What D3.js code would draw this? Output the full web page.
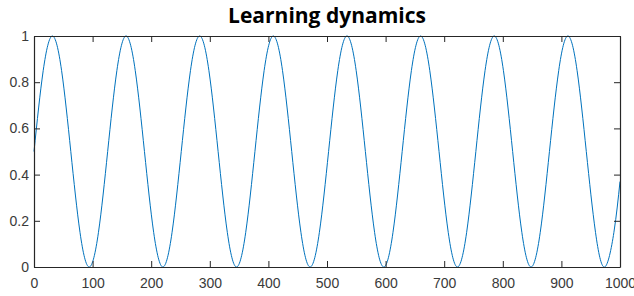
<!DOCTYPE html>
<html>
<head>
<meta charset="utf-8">
<script src="https://cdn.jsdelivr.net/npm/d3@7"></script>
<style>
  body { margin: 0; background: #fff; }
  svg { display: block; }
</style>
</head>
<body>
<div id="chart"></div>
<script>
// values (peaks, troughs and in-between points)
const steps = [0, 15.7, 31.4, 47.1, 62.8, 78.5, 94.2, 110.0,
  125.7, 141.4, 157.1, 172.8, 188.5, 204.2, 219.9, 235.6,
  251.3, 267.0, 282.7, 298.5, 314.2, 329.9, 345.6, 361.3,
  377.0, 392.7, 408.4, 424.1, 439.8, 455.5, 471.2, 487.0,
  502.7, 518.4, 534.1, 549.8, 565.5, 581.2, 596.9, 612.6,
  628.3, 644.0, 659.7, 675.4, 691.2, 706.9, 722.6, 738.3,
  754.0, 769.7, 785.4, 801.1, 816.8, 832.5, 848.2, 863.9,
  879.6, 895.4, 911.1, 926.8, 942.5, 958.2, 973.9, 989.6, 1000];
const level = [0.5, 0.85, 1, 0.85, 0.5, 0.15, 0, 0.15,
  0.5, 0.85, 1, 0.85, 0.5, 0.15, 0, 0.15,
  0.5, 0.85, 1, 0.85, 0.5, 0.15, 0, 0.15,
  0.5, 0.85, 1, 0.85, 0.5, 0.15, 0, 0.15,
  0.5, 0.85, 1, 0.85, 0.5, 0.15, 0, 0.15,
  0.5, 0.85, 1, 0.85, 0.5, 0.15, 0, 0.15,
  0.5, 0.85, 1, 0.85, 0.5, 0.15, 0, 0.15,
  0.5, 0.85, 1, 0.85, 0.5, 0.15, 0, 0.15, 0.37];
const xTicks = [0, 100, 200, 300, 400, 500, 600, 700, 800, 900, 1000];
const yTicks = [0, 0.2, 0.4, 0.6, 0.8, 1];
const title = 'Learning dynamics';

const width = 634, height = 296;
const margin = { top: 36, right: 14, bottom: 29, left: 34 };
const axisColor = '#262626';
const labelColor = '#3a3a3a';
const tickLen = 6;

const svg = d3.select('#chart').append('svg')
  .attr('width', width).attr('height', height);

const x = d3.scaleLinear().domain([0, 1000]).range([margin.left, width - margin.right]);
const y = d3.scaleLinear().domain([0, 1]).range([height - margin.bottom, margin.top]);

const pts = steps.map((s, i) => [s, level[i]]);

// curve
const line = d3.line().x(d => x(d[0])).y(d => y(d[1])).curve(d3.curveNatural);
svg.append('path')
  .datum(pts)
  .attr('d', line)
  .attr('fill', 'none')
  .attr('stroke', '#0072BD')
  .attr('stroke-width', 1);

// axes (MATLAB style, ticks inward on all four sides)
const fmt = d => d3.format('~g')(d);
const styleAxis = g => {
  g.selectAll('.domain').attr('stroke', axisColor).attr('stroke-width', 1.2);
  g.selectAll('.tick line').attr('stroke', axisColor);
  g.selectAll('.tick text')
    .attr('fill', labelColor)
    .style('font-family', '"Liberation Sans", Arial, sans-serif')
    .style('font-size', '14px');
};

svg.append('g')
  .attr('transform', `translate(0,${y(0)})`)
  .call(d3.axisBottom(x).tickValues(xTicks).tickFormat(fmt).tickSizeInner(-tickLen).tickSizeOuter(0).tickPadding(11))
  .call(styleAxis);

svg.append('g')
  .attr('transform', `translate(0,${y(1)})`)
  .call(d3.axisTop(x).tickValues(xTicks).tickFormat('').tickSizeInner(-tickLen).tickSizeOuter(0))
  .call(styleAxis);

svg.append('g')
  .attr('transform', `translate(${x(0)},0)`)
  .call(d3.axisLeft(y).tickValues(yTicks).tickFormat(fmt).tickSizeInner(-tickLen).tickSizeOuter(0).tickPadding(5))
  .call(styleAxis);

svg.append('g')
  .attr('transform', `translate(${x(1000)},0)`)
  .call(d3.axisRight(y).tickValues(yTicks).tickFormat('').tickSizeInner(-tickLen).tickSizeOuter(0))
  .call(styleAxis);

svg.append('text')
  .attr('x', (x(0) + x(1000)) / 2)
  .attr('y', 23)
  .attr('text-anchor', 'middle')
  .style('font-family', '"Open Sans", Lato, sans-serif')
  .style('font-weight', 'bold')
  .style('font-size', '21px')
  .attr('fill', '#000')
  .text(title);
</script>
</body>
</html>
